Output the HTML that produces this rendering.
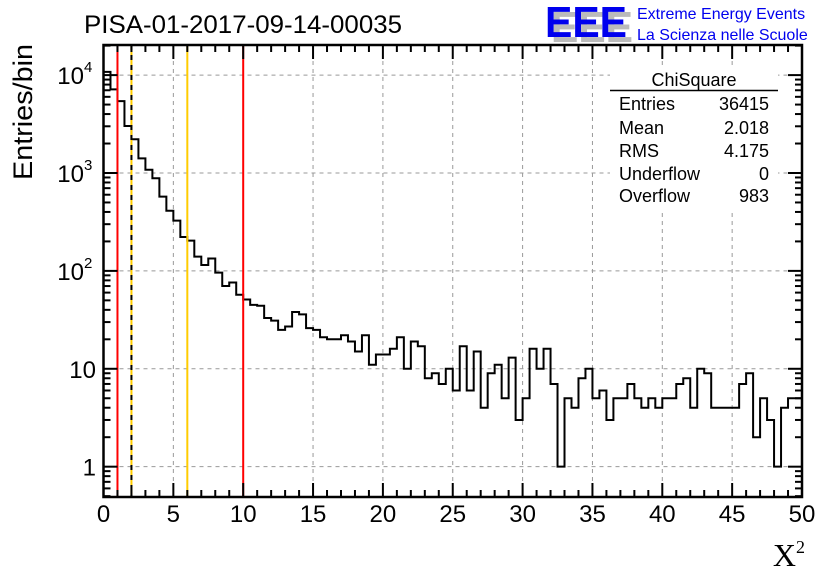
<!DOCTYPE html>
<html><head><meta charset="utf-8"><style>
body{margin:0;background:#fff}
svg{display:block;font-family:"Liberation Sans",sans-serif}
</style></head><body>
<svg id="chart" width="836" height="572" viewBox="0 0 836 572" xmlns="http://www.w3.org/2000/svg">
<rect width="836" height="572" fill="#fff"/>
<g id="grid"></g>
<g id="marks"></g>
<g id="axes"></g>
<text x="243" y="33" font-size="25" text-anchor="middle" textLength="318" lengthAdjust="spacingAndGlyphs">PISA-01-2017-09-14-00035</text>
<g>
<text x="551" y="42" font-size="44" font-weight="bold" fill="#bbb" textLength="82" lengthAdjust="spacingAndGlyphs">EEE</text>
<text x="545" y="37" font-size="44" font-weight="bold" fill="#0000ee" textLength="82" lengthAdjust="spacingAndGlyphs">EEE</text>
<text x="637" y="19" font-size="16" fill="#0000ee">Extreme Energy Events</text>
<text x="637" y="40" font-size="16" fill="#0000ee">La Scienza nelle Scuole</text>
</g>
<g font-size="18">
<rect x="610" y="66" width="168" height="144" fill="#fff"/>
<text x="694" y="86" text-anchor="middle">ChiSquare</text>
<line x1="610" y1="90.5" x2="778" y2="90.5" stroke="#000" stroke-width="1.5"/>
<text x="619" y="110">Entries</text><text x="769" y="110" text-anchor="end">36415</text>
<text x="619" y="134">Mean</text><text x="769" y="134" text-anchor="end">2.018</text>
<text x="619" y="157">RMS</text><text x="769" y="157" text-anchor="end">4.175</text>
<text x="619" y="180">Underflow</text><text x="769" y="180" text-anchor="end">0</text>
<text x="619" y="202">Overflow</text><text x="769" y="202" text-anchor="end">983</text>
</g>
<text transform="translate(32,180) rotate(-90)" font-size="27" textLength="136" lengthAdjust="spacingAndGlyphs">Entries/bin</text>
<text x="805" y="566" text-anchor="end" font-family="Liberation Serif,serif" font-size="32">X<tspan font-size="18" dy="-13">2</tspan></text>
</svg>
<script>
const binWidth = 0.5;
const counts = [10800,7140,5430,3020,2210,1410,1080,884,573,412,326,222,204,140,115,134,96,70,76,57,51,45,44,33,31,25,27,38,36,26,25,21,20,20,22,19,15,22,11,14,14,16,21,10,19,17,8,9,7,10,6,17,6,15,4,9,11,5,13,3,5,16,10,16,7,1,5,4,8,10,5,6,3,5,5,7,5,4,5,4,5,5,7,8,4,10,9,4,4,4,4,7,9,2,5,3,1,4,5,5];
const xTicks = [0,5,10,15,20,25,30,35,40,45,50];
const yDecades = [1,10,100,1000,10000];
const yBase = ["1","10","10","10","10"];
const yExp = ["","","2","3","4"];
const cutLines = [1,2,6,10];

const L=103.5,R=802,T=45,B=497, xMin=0,xMax=50, yMin=Math.log10(0.49), yMax=Math.log10(20300);
const X=v=>L+(v-xMin)/(xMax-xMin)*(R-L);
const Y=v=>B-(Math.log10(v)-yMin)/(yMax-yMin)*(B-T);
const NS="http://www.w3.org/2000/svg";
function mk(tag,attrs,parent){const e=document.createElementNS(NS,tag);for(const k in attrs)e.setAttribute(k,attrs[k]);parent.appendChild(e);return e;}
const grid=document.getElementById('grid'),marks=document.getElementById('marks'),axes=document.getElementById('axes');

xTicks.slice(1,-1).forEach(t=>{const l=mk('line',{x1:X(t),x2:X(t),y1:T,y2:B,stroke:'#999','stroke-dasharray':'4,4','stroke-width':1},grid);

});
yDecades.forEach(d=>{const l=mk('line',{x1:L,x2:R,y1:Y(d),y2:Y(d),stroke:'#999','stroke-dasharray':'4,4','stroke-width':1},grid);

});

let d='M'+X(0)+','+B;
counts.forEach((c,i)=>{const y=c>0?Math.max(Y(c),T):B;d+=' L'+X(i*binWidth)+','+y+' L'+X((i+1)*binWidth)+','+y;});
d+=' L'+X(counts.length*binWidth)+','+B;
const p=mk('path',{d:d,fill:'none',stroke:'#000','stroke-width':2},marks);



[[cutLines[0],'#f00',null],[cutLines[1],'#000','5,5'],[cutLines[2],'#fc0',null],[cutLines[3],'#f00',null]].forEach((c,i)=>{
 if(i===1){const b=mk('line',{x1:X(c[0]),x2:X(c[0]),y1:T,y2:B,stroke:'#fc0','stroke-width':2},marks);
 
 }
 const a={x1:X(c[0]),x2:X(c[0]),y1:T,y2:B,stroke:c[1],'stroke-width':2};if(c[2])a['stroke-dasharray']=c[2];
 const l=mk('line',a,marks);
 
 });

const f=mk('rect',{x:L,y:T,width:R-L,height:B-T,fill:'none',stroke:'#000','stroke-width':2.5},axes);


for(let v=xMin;v<=xMax;v+=1){const len=v%5===0?14:7;
 const t1=mk('line',{x1:X(v),x2:X(v),y1:B,y2:B-len,stroke:'#000','stroke-width':2},axes);
 
 
 const t2=mk('line',{x1:X(v),x2:X(v),y1:T,y2:T+len,stroke:'#000','stroke-width':2},axes);
 
 }
xTicks.forEach(t=>{const e=mk('text',{x:X(t),y:522,'font-size':24,'text-anchor':'middle'},axes);e.textContent=t;
 
 });
for(let e=-1;e<=4;e++){for(let m=1;m<=9;m++){const v=m*Math.pow(10,e);if(v<0.49||v>20300)continue;const len=m===1?14:7;
 const a=mk('line',{x1:L,x2:L+len,y1:Y(v),y2:Y(v),stroke:'#000','stroke-width':2},axes);
 
 
 const b=mk('line',{x1:R,x2:R-len,y1:Y(v),y2:Y(v),stroke:'#000','stroke-width':2},axes);
 
 }}
yDecades.forEach((v,i)=>{
 const hasExp=yExp[i]!=='';
 const e=mk('text',{x:hasExp?84:96,y:Y(v)+9,'font-size':24,'text-anchor':'end'},axes);e.textContent=yBase[i];
 
 
 if(hasExp){const s=mk('text',{x:84,y:Y(v)-3,'font-size':15,'text-anchor':'start'},axes);s.textContent=yExp[i];
 
 }
});
</script>
</body></html>
